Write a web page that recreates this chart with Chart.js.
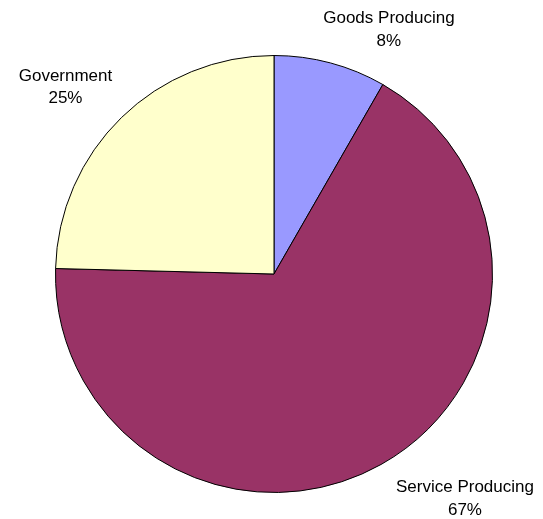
<!DOCTYPE html>
<html>
<head>
<meta charset="utf-8">
<script src="https://cdn.jsdelivr.net/npm/chart.js@4"></script>
<style>
  html, body { margin: 0; padding: 0; background: #ffffff; }
  #wrap { width: 543px; height: 519px; position: relative; }
</style>
</head>
<body>
<div id="wrap"><canvas id="c"></canvas></div>
<script>
const categories = ["Goods Producing", "Service Producing", "Government"];
const shares = [8.3, 67.1, 24.6];
const sliceColors = ["#9999FF", "#993366", "#FFFFCC"];
// label offsets (dx, dy to first baseline) from point just outside each slice's mid-angle
const labelOffsets = [[56, -30], [79, 19], [-49, -29.5]];

const labelPlugin = {
  id: 'outsideLabels',
  afterDatasetsDraw(chart) {
    const ctx = chart.ctx;
    const meta = chart.getDatasetMeta(0);
    const total = shares.reduce((a, b) => a + b, 0);
    ctx.save();
    ctx.font = '17px "Liberation Sans", Arial, sans-serif';
    ctx.fillStyle = '#000000';
    ctx.textAlign = 'center';
    ctx.textBaseline = 'alphabetic';
    meta.data.forEach((arc, i) => {
      const mid = (arc.startAngle + arc.endAngle) / 2;
      const r = arc.outerRadius + 10;
      const ax = arc.x + Math.cos(mid) * r;
      const ay = arc.y + Math.sin(mid) * r;
      const x = ax + labelOffsets[i][0];
      const y = ay + labelOffsets[i][1];
      ctx.fillText(categories[i], x, y);
      ctx.fillText(Math.round(shares[i] / total * 100) + '%', x, y + 22.5);
    });
    ctx.restore();
  }
};

new Chart(document.getElementById('c'), {
  type: 'pie',
  data: {
    labels: categories,
    datasets: [{
      data: shares,
      backgroundColor: sliceColors,
      borderColor: '#000000',
      borderWidth: 1
    }]
  },
  options: {
    responsive: true,
    maintainAspectRatio: false,
    animation: false,
    layout: { padding: { left: 55, right: 50, top: 55, bottom: 26 } },
    plugins: {
      legend: { display: false },
      tooltip: { enabled: false }
    }
  },
  plugins: [labelPlugin]
});
</script>
</body>
</html>
